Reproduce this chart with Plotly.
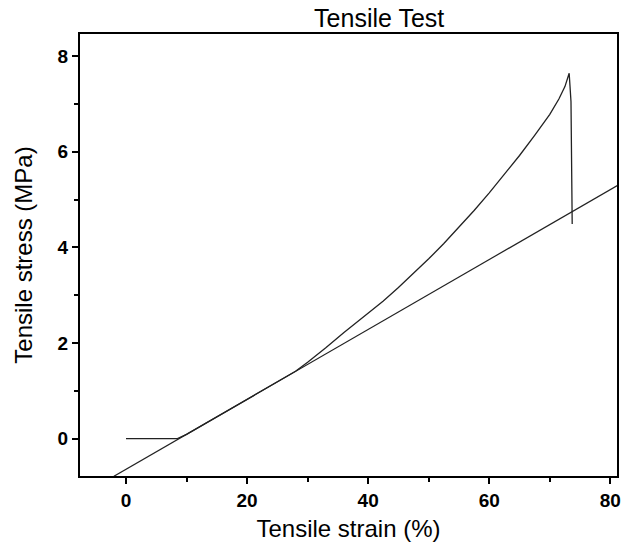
import plotly.graph_objects as go

# Measured test curve (strain %, stress MPa)
strain = [0, 4, 8.5, 10, 15, 20, 25, 28, 30, 33, 36, 40, 42.5, 45, 47.5, 50, 52.5, 55, 57.5,
          60, 62.5, 65, 67.5, 70, 71.5, 72.5, 73.2, 73.5, 73.7]
stress = [0, 0, 0.0, 0.09, 0.46, 0.82, 1.19, 1.41, 1.60, 1.90, 2.22, 2.62, 2.88, 3.16, 3.45, 3.76, 4.08, 4.42, 4.77,
          5.14, 5.52, 5.92, 6.34, 6.78, 7.10, 7.36, 7.64, 7.05, 4.49]

# Linear fit line
fit_strain = [-2.0, 85.0]
fit_stress = [-0.786, 5.573]

x_ticks = [0, 20, 40, 60, 80]
y_ticks = [0, 2, 4, 6, 8]

fig = go.Figure()
fig.add_trace(go.Scatter(x=fit_strain, y=fit_stress, mode="lines",
                         line=dict(color="#222222", width=1.2), showlegend=False))
fig.add_trace(go.Scatter(x=strain, y=stress, mode="lines",
                         line=dict(color="#222222", width=1.3), showlegend=False))

axis_common = dict(showline=True, linecolor="black", linewidth=2, mirror=True,
                   ticks="outside", ticklen=6, tickwidth=2, tickcolor="black",
                   showgrid=False, zeroline=False, automargin=False,
                   tickfont=dict(family="Liberation Sans", size=19, color="black", weight="bold"))

fig.update_xaxes(range=[-7.6, 81.1], tickvals=x_ticks,
                 minor=dict(ticks="outside", dtick=10, tick0=0, ticklen=4, tickwidth=2, tickcolor="black"),
                 title=dict(text="Tensile strain (%)", font=dict(family="Liberation Sans", size=24, color="black"),
                            standoff=10),
                 **axis_common)
fig.update_yaxes(range=[-0.78, 8.46], tickvals=y_ticks,
                 minor=dict(ticks="outside", dtick=1, tick0=0, ticklen=4, tickwidth=2, tickcolor="black"),
                 title=dict(text="Tensile stress (MPa)", font=dict(family="Liberation Sans", size=24, color="black"),
                            standoff=18),
                 **axis_common)

fig.update_layout(
    width=633, height=546,
    margin=dict(l=80, r=16, t=34, b=70),
    paper_bgcolor="white", plot_bgcolor="white",
    title=dict(text="Tensile Test", x=0.599, xanchor="center", y=0.967, yanchor="middle",
               font=dict(family="Liberation Sans", size=25, color="black")),
)

fig.write_html("out.html")
